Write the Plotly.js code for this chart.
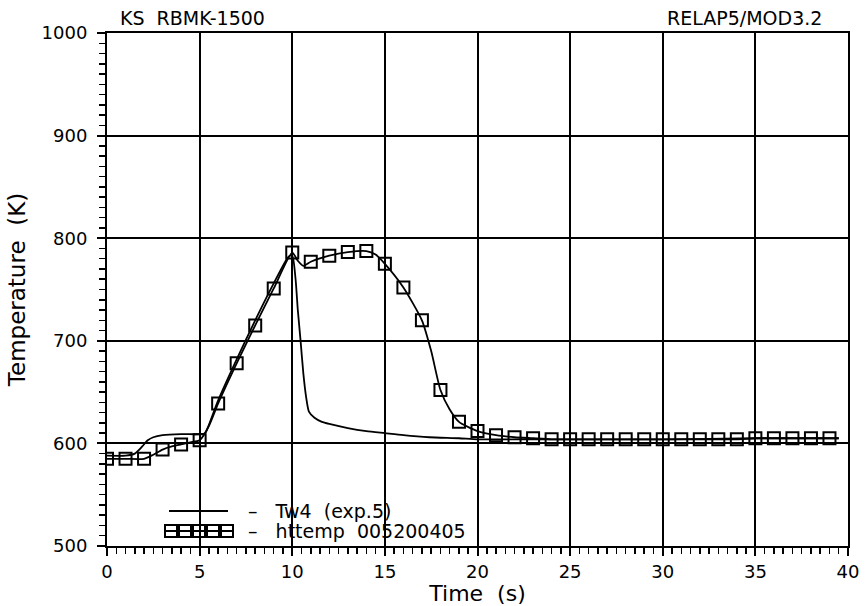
<!DOCTYPE html>
<html>
<head>
<meta charset="utf-8">
<script src="https://cdn.plot.ly/plotly-3.0.1.min.js"></script>
<style>html,body{margin:0;padding:0;background:#fff;}#chart{width:866px;height:606px;}</style>
</head>
<body>
<div id="chart"></div>
<script>
// ---- data ----
const tw4Time = [0, 1, 1.5, 1.9, 2.2, 2.5, 3, 4, 5, 5.3, 5.5, 6, 7, 8, 9, 9.8, 10, 10.18, 10.3, 10.45, 10.6, 10.75, 10.9, 11.2, 11.6, 12, 13, 14, 15, 16, 17.4, 19, 20, 22, 25, 30, 35, 39.5];
const tw4Temp = [588, 588, 590, 597, 603, 606, 608, 609, 609, 610, 618, 642, 682, 720, 756, 782, 783, 760, 730, 700, 668, 645, 631, 625, 621, 619, 615, 612, 610, 608, 606, 605, 604, 604, 604, 604, 605, 605];

const httempTime = [0, 1, 2, 2.5, 3, 3.5, 4, 4.5, 5, 5.5, 6, 7, 8, 9, 10, 10.3, 10.6, 11, 12, 13, 14, 14.5, 15, 16, 17, 17.5, 18, 18.5, 19, 20, 21, 22, 23, 24, 25, 26, 27, 28, 29, 30, 31, 32, 33, 34, 35, 36, 37, 38, 39, 39.5];
const httempTemp = [585, 585, 585, 589, 594, 597, 599, 601, 603, 617, 639, 678, 715, 751, 786, 778, 773, 777, 783, 786.5, 787.5, 784, 775, 752, 720, 690, 652, 633, 621, 612, 608, 606, 605, 604, 604, 604, 604, 604, 604, 604, 604, 604, 604, 604, 605, 605, 605, 605, 605, 605];

const xTickVals = [0, 5, 10, 15, 20, 25, 30, 35, 40];
const yTickVals = [500, 600, 700, 800, 900, 1000];

const seriesNames = ["Tw4  (exp.5)", "httemp  005200405"];
const titleLeft = "KS  RBMK-1500";
const titleRight = "RELAP5/MOD3.2";
const xTitle = "Time  (s)";
const yTitle = "Temperature  (K)";

// ---- layout geometry ----
const W = 866, H = 606;
const M = {l: 107, r: 18, t: 33, b: 60};
const PW = W - M.l - M.r, PH = H - M.t - M.b;
const px = v => (v - M.l) / PW;          // pixel x -> paper
const py = v => (H - M.b - v) / PH;      // pixel y -> paper
const FONT = "DejaVu Sans, sans-serif";

const markerSizes = httempTime.map(t => Number.isInteger(t) ? 12 : 0);

const traces = [
  {x: tw4Time, y: tw4Temp, name: seriesNames[0], mode: "lines",
   line: {color: "#000", width: 1.8, shape: "spline", smoothing: 0.6}, showlegend: false},
  {x: httempTime, y: httempTemp, name: seriesNames[1], mode: "lines+markers",
   line: {color: "#000", width: 1.8, shape: "spline", smoothing: 0.6},
   marker: {symbol: "square-open", size: markerSizes, opacity: 1, color: "#000", line: {width: 2, color: "#000"}},
   showlegend: false}
];

// custom legend (sample line + row of squares, as in the reference)
const shapes = [
  {type: "line", xref: "paper", yref: "paper", x0: px(169), x1: px(228), y0: py(511), y1: py(511), line: {color: "#000", width: 2}},
  {type: "line", xref: "paper", yref: "paper", x0: px(164), x1: px(234), y0: py(531), y1: py(531), line: {color: "#000", width: 2}}
];
[171, 185, 199, 213, 227].forEach(c => shapes.push({
  type: "rect", xref: "paper", yref: "paper", x0: px(c - 6), x1: px(c + 6), y0: py(525), y1: py(537),
  line: {color: "#000", width: 2}, fillcolor: "rgba(0,0,0,0)"
}));

const annotations = [
  {xref: "paper", yref: "paper", x: px(246), y: py(511), xanchor: "left", yanchor: "middle", showarrow: false,
   text: "–\u00a0\u00a0\u00a0" + seriesNames[0].replace(/ /g, "\u00a0"), font: {family: FONT, size: 19, color: "#000"}},
  {xref: "paper", yref: "paper", x: px(246), y: py(531), xanchor: "left", yanchor: "middle", showarrow: false,
   text: "–\u00a0\u00a0\u00a0" + seriesNames[1].replace(/ /g, "\u00a0"), font: {family: FONT, size: 19, color: "#000"}},
  {xref: "paper", yref: "paper", x: px(118), y: py(18), xanchor: "left", yanchor: "middle", showarrow: false,
   text: titleLeft.replace(/ /g, "\u00a0"), font: {family: FONT, size: 19, color: "#000"}},
  {xref: "paper", yref: "paper", x: px(824), y: py(18), xanchor: "right", yanchor: "middle", showarrow: false,
   text: titleRight, font: {family: FONT, size: 19, color: "#000"}}
];

const axisCommon = {
  showline: true, linecolor: "#000", linewidth: 2, mirror: true,
  showgrid: true, gridcolor: "#000", gridwidth: 2,
  zeroline: false, ticks: "outside", ticklen: 8, tickwidth: 2, tickcolor: "#000",
  tickfont: {family: FONT, size: 18, color: "#000"}
};

const layout = {
  width: W, height: H, margin: M,
  paper_bgcolor: "#fff", plot_bgcolor: "#fff",
  showlegend: false,
  xaxis: Object.assign({}, axisCommon, {
    range: [0, 40], tickvals: xTickVals, ticktext: xTickVals.map(String),
    minor: {dtick: 0.5, tick0: 0, ticks: "outside", ticklen: 6, tickwidth: 1.5, tickcolor: "#000", showgrid: false},
    title: {text: xTitle.replace(/ /g, "\u00a0"), font: {family: FONT, size: 22, color: "#000"}, standoff: 0}
  }),
  yaxis: Object.assign({}, axisCommon, {
    range: [500, 1000], tickvals: yTickVals, ticktext: yTickVals.map(String),
    minor: {dtick: 10, tick0: 500, ticks: "outside", ticklen: 6, tickwidth: 1.5, tickcolor: "#000", showgrid: false},
    ticklabelstandoff: 6,
    title: {text: yTitle.replace(/ /g, "\u00a0"), font: {family: FONT, size: 23, color: "#000"}, standoff: 10}
  }),
  shapes: shapes,
  annotations: annotations
};

Plotly.newPlot("chart", traces, layout, {displayModeBar: false, staticPlot: true});
</script>
</body>
</html>
